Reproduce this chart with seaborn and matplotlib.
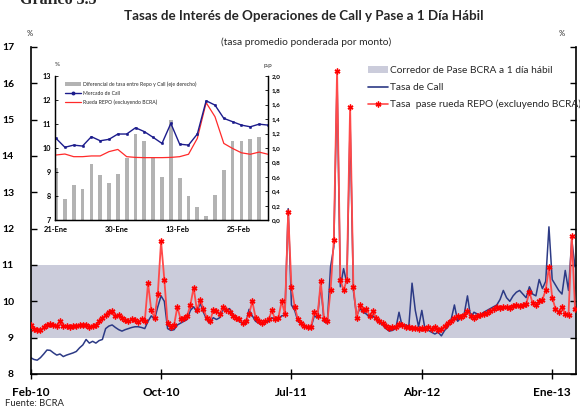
import numpy as np
import pandas as pd
import matplotlib
matplotlib.use("Agg")
import matplotlib.pyplot as plt
import seaborn as sns
from matplotlib.patches import Patch
from matplotlib.lines import Line2D

sns.set_theme(style="white")
plt.rcParams['font.family'] = ['Lato', 'DejaVu Sans']

# ---------------- main chart data ----------------
x_tick_labels = ["Feb-10", "Oct-10", "Jul-11", "Abr-12", "Ene-13"]
x_tick_obs = [0, 40, 80, 120, 160]

repo_rate = [
    9.35, 9.25, 9.20, 9.22, 9.28, 9.35, 9.38, 9.35, 9.33, 9.45,
    9.33, 9.32, 9.30, 9.32, 9.33, 9.35, 9.36, 9.34, 9.30, 9.33,
    9.35, 9.45, 9.55, 9.62, 9.70, 9.72, 9.60, 9.62, 9.55, 9.48,
    9.45, 9.50, 9.48, 9.42, 9.50, 9.45, 10.50, 9.75, 9.55, 10.20,
    11.65, 10.60, 9.40, 9.28, 9.35, 9.85, 9.50, 9.55, 9.60, 9.90,
    10.38, 9.75, 10.05, 9.80, 9.55, 9.45, 9.75, 9.72, 9.65, 9.85,
    9.75, 9.70, 9.60, 9.55, 9.50, 9.40, 9.45, 9.65, 10.00, 9.55,
    9.45, 9.40, 9.45, 9.50, 9.75, 9.50, 9.55, 10.00, 9.65, 12.45,
    10.40, 9.85, 9.50, 9.40, 9.32, 9.28, 9.30, 9.70, 9.60, 10.55,
    9.50, 9.45, 10.30, 11.70, 16.35, 10.60, 10.30, 10.60, 15.35, 10.40,
    9.55, 9.90, 9.75, 9.80, 9.60, 9.72, 9.55, 9.45, 9.40, 9.32,
    9.26, 9.28, 9.30, 9.38, 9.35, 9.30, 9.28, 9.27, 9.26, 9.25,
    9.26, 9.25, 9.28, 9.25, 9.30, 9.22, 9.25, 9.32, 9.40, 9.45,
    9.55, 9.60, 9.58, 9.62, 9.72, 9.60, 9.55, 9.60, 9.62, 9.65,
    9.68, 9.72, 9.80, 9.85, 9.82, 9.85, 9.85, 9.82, 9.88, 9.90,
    9.88, 9.90, 9.92, 10.25, 9.95, 9.90, 10.00, 10.05, 10.30, 10.95,
    10.10, 9.80, 9.70, 9.85, 9.65, 9.62, 11.80, 9.80,
]

call_rate = [
    8.45, 8.40, 8.38, 8.45, 8.55, 8.66, 8.65, 8.58, 8.52, 8.55,
    8.48, 8.52, 8.55, 8.58, 8.62, 8.72, 8.80, 8.95, 8.85, 8.90,
    8.85, 8.92, 8.95, 9.25, 9.32, 9.35, 9.28, 9.22, 9.18, 9.22,
    9.25, 9.28, 9.30, 9.30, 9.28, 9.25, 9.45, 9.60, 9.50, 9.85,
    10.15, 10.00, 9.25, 9.20, 9.22, 9.35, 9.40, 9.45, 9.50, 9.75,
    9.85, 9.70, 9.95, 9.70, 9.50, 9.40, 9.55, 9.50, 9.55, 9.80,
    9.75, 9.80, 9.65, 9.55, 9.45, 9.38, 9.40, 9.78, 9.60, 9.45,
    9.40, 9.40, 9.42, 9.45, 9.55, 9.48, 9.52, 9.60, 9.62, 12.55,
    9.90, 9.75, 9.45, 9.38, 9.30, 9.28, 9.28, 9.60, 9.55, 10.45,
    9.45, 9.40, 10.95, 11.50, 16.10, 10.40, 10.90, 10.50, 14.90, 10.30,
    9.60, 9.80, 9.70, 9.65, 9.55, 9.60, 9.50, 9.42, 9.35, 9.25,
    9.18, 9.20, 9.25, 9.70, 9.30, 9.35, 9.30, 10.50, 9.75, 9.30,
    9.75, 9.22, 9.20, 9.15, 9.10, 9.15, 9.05, 9.20, 9.30, 9.50,
    9.90, 9.45, 9.55, 9.65, 10.15, 9.55, 9.70, 9.65, 9.62, 9.70,
    9.75, 9.80, 9.85, 9.90, 10.05, 10.30, 10.10, 10.00, 10.15, 10.25,
    10.30, 10.20, 10.10, 10.40, 10.20, 10.15, 10.60, 10.35, 10.55, 12.05,
    10.60, 10.45, 10.30, 10.20, 10.85, 10.30, 11.70, 10.95,
]

corridor_floor = 9.0
corridor_cap = 11.0

# ---------------- inset data ----------------
inset_tick_labels = ["21-Ene", "30-Ene", "13-Feb", "25-Feb"]
inset_tick_pos = [0, 6.9, 13.8, 20.7]

spread_pp = [0.72, 0.30, 0.49, 0.43, 0.78, 0.63, 0.52, 0.64, 0.86, 1.19,
             1.09, 0.86, 0.60, 1.39, 0.59, 0.34, 0.19, 0.065, 0.35, 0.70,
             1.09, 1.10, 1.12, 1.15]
call_market = [10.40, 10.03, 10.12, 10.08, 10.47, 10.30, 10.36, 10.58, 10.58,
               10.84, 10.68, 10.44, 10.19, 11.02, 10.16, 10.12, 10.58, 11.96,
               11.78, 11.23, 11.09, 10.95, 10.88, 10.99, 10.95]
repo_wheel = [9.71, 9.75, 9.64, 9.64, 9.67, 9.67, 9.85, 9.94, 9.64, 9.61,
              9.60, 9.60, 9.60, 9.61, 9.64, 9.74, 10.40, 11.88, 11.30, 10.19,
              9.98, 9.80, 9.74, 9.83, 9.74]

BLUE = "#2c3a85"
RED_LINE = "#ff4a4a"
RED_MARK = "#ff0000"
BAND = "#cbccdb"
INSET_BLUE = "#1c1c8c"
INSET_RED = "#ff2a2a"
BAR_GREY = "#b3b3b3"

fig = plt.figure(figsize=(5.8, 4.09), dpi=100)

# ---------------- main axes ----------------
ax = fig.add_axes([0.0529, 0.0856, 0.9402, 0.7995])
df = pd.DataFrame({"obs": np.arange(len(call_rate)),
                   "call": call_rate, "repo": repo_rate})
ax.axhspan(corridor_floor, corridor_cap, color=BAND, lw=0, zorder=0)
sns.lineplot(data=df, x="obs", y="call", ax=ax, color=BLUE, lw=1.1, zorder=2)
sns.lineplot(data=df, x="obs", y="repo", ax=ax, color=RED_LINE, lw=1.3,
             marker=(6, 2, 0), markersize=4.2, markeredgecolor=RED_MARK,
             markerfacecolor=RED_MARK, markeredgewidth=1.0, zorder=3)

ax.set_xlim(0, 167.3)
ax.set_ylim(8, 17)
ax.set_xticks(x_tick_obs, x_tick_labels)
ax.set_yticks(range(8, 18))
ax.set_xlabel("")
ax.set_ylabel("")
for s in ["left", "bottom", "right"]:
    ax.spines[s].set_visible(True)
    ax.spines[s].set_color("black")
    ax.spines[s].set_linewidth(1.2)
ax.spines["top"].set_visible(False)
ax.tick_params(axis="y", direction="in", left=True, right=True, labelright=False,
               length=4, width=1, labelsize=7.5, pad=12, colors="black")
ax.tick_params(axis="x", direction="inout", bottom=True, length=7, width=1,
               labelsize=8.5, pad=6, colors="black")
for lab in ax.get_xticklabels() + ax.get_yticklabels():
    lab.set_fontweight("bold")

legend_handles = [
    Patch(facecolor=BAND, edgecolor="none"),
    Line2D([], [], color=BLUE, lw=1.2),
    Line2D([], [], color=RED_LINE, lw=1.2, marker=(6, 2, 0), markersize=4.2,
           markeredgecolor=RED_MARK, markeredgewidth=1.0),
]
legend_labels = ["Corredor de Pase BCRA a 1 día hábil", "Tasa de Call",
                 "Tasa  pase rueda REPO (excluyendo BCRA)"]
fig.legend(legend_handles, legend_labels, loc="upper left",
           bbox_to_anchor=(0.6345, 0.838), frameon=False, fontsize=7.3,
           handlelength=2.0, handletextpad=0.2, labelspacing=0.75,
           borderpad=0, borderaxespad=0)

# ---------------- texts ----------------
fig.text(20 / 580, 1 - 4 / 409, "Gráfico 3.5", fontsize=11.5, fontweight="bold",
         family=["Liberation Serif", "DejaVu Serif"], va="baseline", ha="left")
fig.text(304 / 580, 1 - 16 / 409,
         "Tasas de Interés de Operaciones de Call y Pase a 1 Día Hábil",
         ha="center", va="center", fontsize=9.6, fontweight="bold")
fig.text(306 / 580, 1 - 42 / 409, "(tasa promedio ponderada por monto)",
         ha="center", va="center", fontsize=7.4)
fig.text(30 / 580, 1 - 33 / 409, "%", ha="center", va="center", fontsize=5.5)
fig.text(562 / 580, 1 - 33 / 409, "%", ha="center", va="center", fontsize=5.5)
fig.text(5 / 580, 1 - 403 / 409, "Fuente: BCRA", ha="left", va="center",
         fontsize=6.8)

# ---------------- inset ----------------
ax_b = fig.add_axes([0.0948, 0.4614, 0.3672, 0.3535])
ax_b.set_zorder(5)
ax_b.set_facecolor("white")
bdf = pd.DataFrame({"pos": np.arange(len(spread_pp)), "spread": spread_pp})
sns.barplot(data=bdf, x="pos", y="spread", ax=ax_b, color=BAR_GREY,
            saturation=1, width=0.42, native_scale=True, edgecolor="none")

ax_l = ax_b.twinx()
ax_l.set_zorder(6)
ax_l.patch.set_visible(False)
ldf = pd.DataFrame({"pos": np.arange(len(call_market)),
                    "call": call_market, "repo": repo_wheel})
sns.lineplot(data=ldf, x="pos", y="repo", ax=ax_l, color=INSET_RED, lw=0.9)
sns.lineplot(data=ldf, x="pos", y="call", ax=ax_l, color=INSET_BLUE, lw=1.0,
             marker="o", markersize=1.8, markeredgecolor=INSET_BLUE,
             markeredgewidth=0.3)

# bars axis: right side, 0,0 .. 2,0
ax_b.set_ylim(0, 2.0)
ax_b.set_xlim(-0.12, 24.0)
ax_b.yaxis.tick_right()
ax_b.yaxis.set_label_position("right")
rticks = np.round(np.arange(0, 2.01, 0.2), 1)
ax_b.set_yticks(rticks)
ax_b.set_yticklabels([f"{v:.1f}".replace(".", ",") for v in rticks])
ax_b.set_xticks(inset_tick_pos, inset_tick_labels)
ax_b.set_xlabel("")
ax_b.set_ylabel("")

# lines axis: left side, 7 .. 13
ax_l.set_ylim(7, 13)
ax_l.yaxis.tick_left()
ax_l.yaxis.set_label_position("left")
ax_l.set_yticks(range(7, 14))
ax_l.set_xlabel("")
ax_l.set_ylabel("")

for a in (ax_b, ax_l):
    a.spines["top"].set_visible(False)
    for s in ["left", "right", "bottom"]:
        a.spines[s].set_visible(True)
        a.spines[s].set_color("black")
        a.spines[s].set_linewidth(0.9)
ax_b.tick_params(axis="y", direction="in", right=True, left=False,
                 labelright=True, labelleft=False, length=2.5,
                 width=0.6, labelsize=4.6, pad=3, colors="black")
ax_l.tick_params(axis="y", direction="in", left=True, right=False,
                 labelleft=True, labelright=False, length=2.5,
                 width=0.6, labelsize=5.2, pad=3, colors="black")
ax_b.tick_params(axis="x", bottom=False, labelbottom=True, length=0,
                 labelsize=5.4, pad=4, colors="black")
for lab in ax_b.get_yticklabels() + ax_l.get_yticklabels() + ax_b.get_xticklabels():
    lab.set_fontweight("bold")

fig.text(57 / 580, 1 - 65 / 409, "%", ha="center", va="center", fontsize=4.5)
fig.text(268 / 580, 1 - 65 / 409, "p.p", ha="center", va="center", fontsize=4.5)

in_handles = [
    Patch(facecolor=BAR_GREY, edgecolor="none"),
    Line2D([], [], color=INSET_BLUE, lw=1.0, marker="o", markersize=1.8),
    Line2D([], [], color=INSET_RED, lw=0.9),
]
in_labels = ["Diferencial de tasa entre Repo y Call (eje derecho)",
             "Mercado de Call", "Rueda REPO (excluyendo BCRA)"]
ax_l.legend(in_handles, in_labels, loc="upper left",
            bbox_to_anchor=(65 / 580, 1 - 81.5 / 409),
            bbox_transform=fig.transFigure, frameon=False, fontsize=3.7,
            handlelength=3.1, handletextpad=0.35, labelspacing=0.75,
            borderpad=0, borderaxespad=0)

fig.savefig("out.png", dpi=100)
